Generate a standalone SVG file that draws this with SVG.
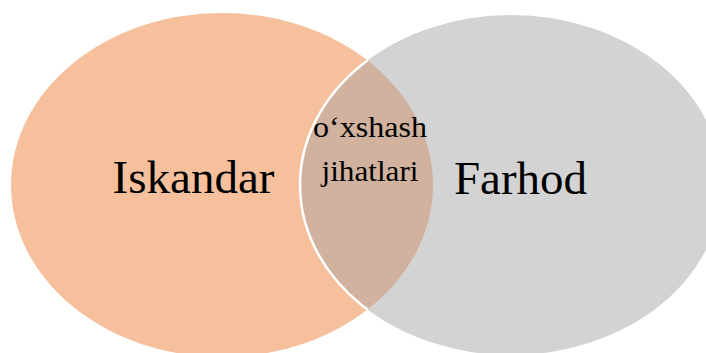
<svg xmlns="http://www.w3.org/2000/svg" width="706" height="353" viewBox="0 0 706 353">
  <style>
    .lbl { font-family: "Liberation Serif", "Times New Roman", serif; fill: #000; text-anchor: middle; }
    .big { font-size: 47px; }
    .small { font-size: 29px; }
  </style>
  <defs>
    <clipPath id="clipRight">
      <ellipse cx="511" cy="185" rx="211" ry="170"/>
    </clipPath>
    <clipPath id="clipLeft">
      <ellipse cx="222" cy="185" rx="211" ry="172"/>
    </clipPath>
  </defs>
  <rect width="706" height="353" fill="#ffffff"/>
  <g id="iskandar">
    <ellipse cx="222" cy="185" rx="211" ry="172" fill="#F5C09B"/>
  </g>
  <g id="farhod">
    <ellipse cx="511" cy="185" rx="211" ry="170" fill="#D3D3D3"/>
  </g>
  <g id="overlap">
    <ellipse cx="222" cy="185" rx="211" ry="172" fill="#D0B29E" clip-path="url(#clipRight)"/>
    <ellipse cx="511" cy="185" rx="211" ry="170" fill="none" stroke="#ffffff" stroke-width="2.5" clip-path="url(#clipLeft)"/>
  </g>
  <g id="connectors"></g>
  <g id="labels">
    <text class="lbl big" x="193.5" y="193">Iskandar</text>
    <text class="lbl big" x="520.5" y="194">Farhod</text>
    <text class="lbl small" x="370" y="137" textLength="114" lengthAdjust="spacingAndGlyphs">o‘xshash</text>
    <text class="lbl small" x="370" y="181" textLength="97" lengthAdjust="spacingAndGlyphs">jihatlari</text>
  </g>
</svg>
